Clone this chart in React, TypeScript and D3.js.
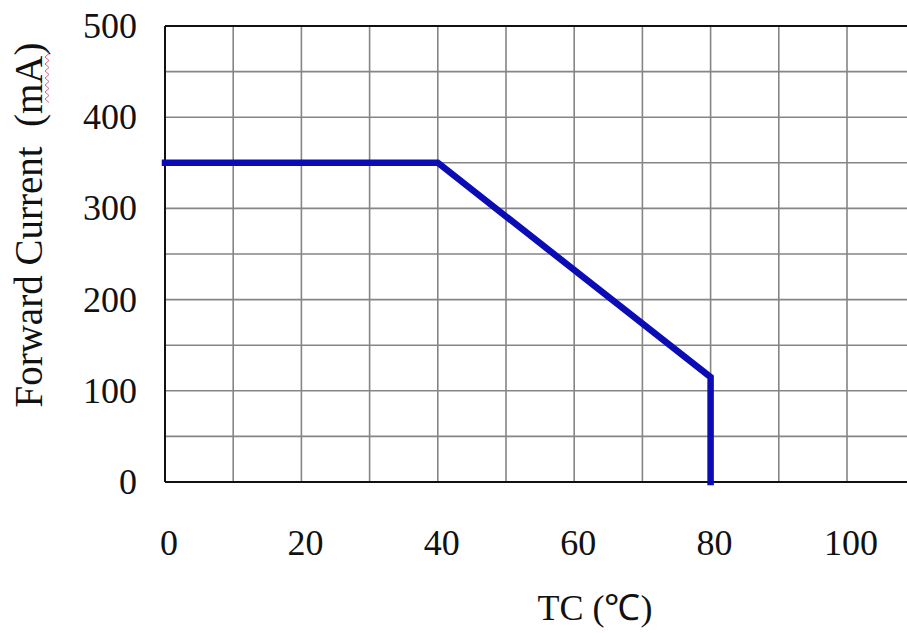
import * as d3 from "d3";

// derating curve: forward current vs case temperature
const tempC = [0, 40, 80, 80];
const currentMA = [350, 350, 115, 0];

const xTicks = [0, 20, 40, 60, 80, 100];
const yTicks = [0, 100, 200, 300, 400, 500];
const xGrid = d3.range(0, 120, 10);
const yGrid = d3.range(0, 550, 50);

const W = 907;
const H = 633;
const FONT = "'Liberation Serif', 'Times New Roman', serif";

export default function App() {
  const x = d3.scaleLinear().domain([0, 100]).range([165, 847]);
  const y = d3.scaleLinear().domain([0, 500]).range([482, 26]);
  const left = x(0);
  const right = W;

  const line = d3
    .line<number>()
    .x((_, i) => x(tempC[i]))
    .y((d) => y(d));

  // little spell-check squiggle next to "mA"
  const squiggle = d3.range(0, 16).map((i) => [i % 2 === 0 ? 45 : 49, 50 + i * 3.5] as [number, number]);

  return (
    <svg
      width={W}
      height={H}
      style={{ position: "absolute", left: 0, top: 0, background: "#fff" }}
    >
      {/* grid */}
      {xGrid.map((v) => (
        <line key={"gx" + v} x1={x(v)} x2={x(v)} y1={y(500)} y2={y(0)} stroke="#858585" strokeWidth={1.6} />
      ))}
      {yGrid.map((v) => (
        <line key={"gy" + v} x1={left} x2={right} y1={y(v)} y2={y(v)} stroke="#858585" strokeWidth={1.6} />
      ))}

      {/* frame */}
      <line x1={left} x2={right} y1={y(500)} y2={y(500)} stroke="#111" strokeWidth={2} />
      <line x1={left} x2={right} y1={y(0)} y2={y(0)} stroke="#111" strokeWidth={2} />
      <line x1={left} x2={left} y1={y(500)} y2={y(0)} stroke="#111" strokeWidth={2} />

      {/* curve */}
      <path
        d={line(currentMA) ?? ""}
        fill="none"
        stroke="#0c0cb4"
        strokeWidth={6.5}
        strokeLinejoin="miter"
        strokeLinecap="square"
      />

      {/* y tick labels */}
      {yTicks.map((v) => (
        <text
          key={"ty" + v}
          x={137}
          y={y(v) + 12}
          textAnchor="end"
          fontSize={36}
          fontFamily={FONT}
          fill="#111"
        >
          {v}
        </text>
      ))}

      {/* x tick labels */}
      {xTicks.map((v) => (
        <text
          key={"tx" + v}
          x={x(v) + 4}
          y={555}
          textAnchor="middle"
          fontSize={36}
          fontFamily={FONT}
          fill="#111"
        >
          {v}
        </text>
      ))}

      {/* axis titles */}
      <text x={595} y={620} textAnchor="middle" fontSize={36} fontFamily={FONT} fill="#111">
        TC (℃)
      </text>
      <text
        transform="translate(42,225) rotate(-90)"
        textAnchor="middle"
        fontSize={39}
        fontFamily={FONT}
        fill="#111"
        style={{ whiteSpace: "pre" }}
      >
        {"Forward Current  (mA)"}
      </text>
      <path d={d3.line()(squiggle) ?? ""} fill="none" stroke="#e0607e" strokeWidth={1} />
    </svg>
  );
}
